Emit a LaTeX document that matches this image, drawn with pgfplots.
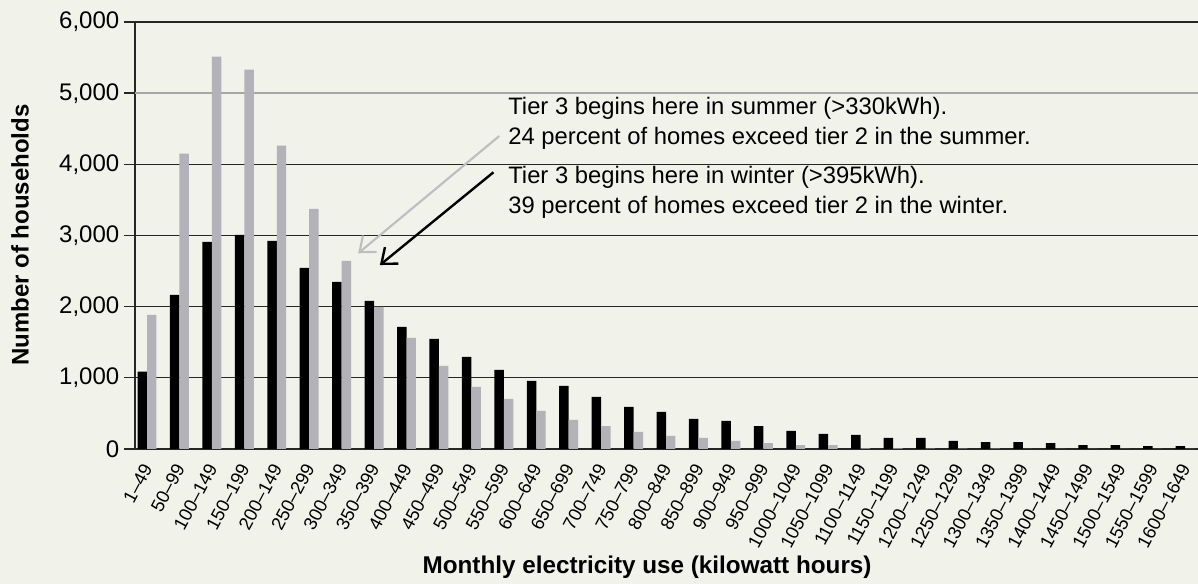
\documentclass[border=0pt]{standalone}
\usepackage{fontspec}
\setmainfont{Liberation Sans}
\usepackage{pgfplots}
\usepackage{pgfplotstable}
\pgfplotsset{compat=1.18}
\usetikzlibrary{arrows.meta}
\definecolor{bg}{RGB}{241,242,234}
\definecolor{bargray}{RGB}{178,178,184}
\definecolor{arrgray}{RGB}{190,190,194}

\pgfplotstableread{
x w s
0 1088 1885
1 2166 4150
2 2911 5513
3 3010 5330
4 2925 4262
5 2546 3375
6 2349 2644
7 2081 1997
8 1716 1561
9 1547 1167
10 1294 872
11 1111 703
12 956 534
13 886 408
14 731 323
15 591 239
16 520 183
17 422 155
18 394 113
19 323 84
20 253 56
21 211 56
22 197 10
23 155 8
24 155 6
25 113 5
26 98 4
27 98 3
28 84 3
29 56 2
30 56 2
31 42 1
32 42 1
}\data

\begin{document}
\begin{tikzpicture}
\fill[bg] (0,0) rectangle (898.5pt,438pt);
\begin{axis}[
  at={(101.25pt,101.25pt)}, anchor=south west,
  scale only axis, width=797.25pt, height=320.25pt,
  xmin=-0.37, xmax=32.4, ymin=0, ymax=6000,
  ybar=0pt, bar width=7.1pt,
  axis x line=bottom, axis y line=left,
  axis line style={-, line width=1pt, black!85},
  xtick=data,
  xticklabels={1--49,50--99,100--149,150--199,200--149,250--299,300--349,350--399,400--449,450--499,500--549,550--599,600--649,650--699,700--749,750--799,800--849,850--899,900--949,950--999,1000--1049,1050--1099,1100--1149,1150--1199,1200--1249,1250--1299,1300--1349,1350--1399,1400--1449,1450--1499,1500--1549,1550--1599,1600--1649},
  x tick style={draw=none},
  xticklabel style={rotate=62, anchor=east, font=\fontsize{13.8}{15}\selectfont, inner sep=1pt, xshift=-2pt, yshift=-2pt},
  ytick={0,1000,2000,3000,4000,6000},
  extra y ticks={5000},
  extra y tick style={ymajorgrids=true, major grid style={black!35, line width=1.3pt}},
  ymajorgrids, major grid style={black!85, line width=1pt},
  tick align=outside, major tick length=8.25pt,
  y tick style={black!85, line width=1pt},
  yticklabel style={font=\fontsize{18}{20}\selectfont},
  /pgf/number format/.cd, 1000 sep={,}, assume math mode=true, /pgfplots/.cd,
  ylabel={Number of households},
  ylabel style={at={(axis description cs:-0.1082,0.501)}, anchor=center, font=\bfseries\fontsize{18}{20}\selectfont},
  xlabel={Monthly electricity use (kilowatt hours)},
  xlabel style={at={(axis description cs:0.4817,-0.276)}, anchor=center, font=\bfseries\fontsize{18.2}{20}\selectfont},
]
\addplot[fill=black, draw=none] table[x=x, y=w] {\data};
\addplot[fill=bargray, draw=none] table[x=x, y=s] {\data};
\draw[arrgray, line width=1.6pt, -{Straight Barb[length=10pt,width=16pt]}] (axis cs:10.86,4398) -- (axis cs:6.51,2750);
\draw[black, line width=1.8pt, -{Straight Barb[length=10pt,width=16pt]}] (axis cs:10.68,3888) -- (axis cs:7.18,2585);
\node[anchor=base west, inner sep=0pt, font=\fontsize{17.85}{20}\selectfont] at (axis cs:11.13,4703) {Tier 3 begins here in summer (>330kWh).};
\node[anchor=base west, inner sep=0pt, font=\fontsize{17.85}{20}\selectfont] at (axis cs:11.13,4285) {24 percent of homes exceed tier 2 in the summer.};
\node[anchor=base west, inner sep=0pt, font=\fontsize{17.85}{20}\selectfont] at (axis cs:11.13,3724) {Tier 3 begins here in winter (>395kWh).};
\node[anchor=base west, inner sep=0pt, font=\fontsize{17.85}{20}\selectfont] at (axis cs:11.13,3316) {39 percent of homes exceed tier 2 in the winter.};
\end{axis}
\pgfresetboundingbox
\path (0,0) rectangle (898.5pt,438pt);
\end{tikzpicture}
\end{document}
